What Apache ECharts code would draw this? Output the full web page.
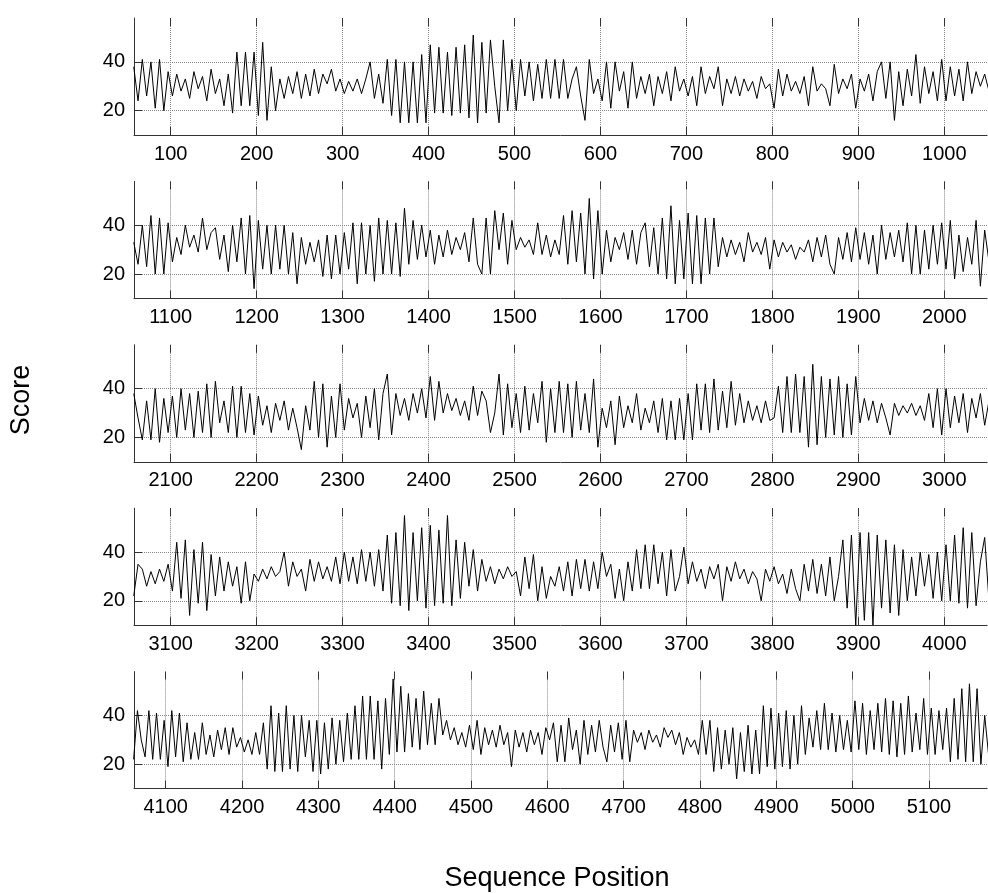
<!DOCTYPE html>
<html>
<head>
<meta charset="utf-8">
<title>Score by sequence position</title>
<script src="https://cdn.jsdelivr.net/npm/echarts@6/dist/echarts.min.js"></script>
<style>
  html, body { margin: 0; padding: 0; background: #fff; }
  #chart { width: 988px; height: 893px; }
</style>
</head>
<body>
<div id="chart"></div>
<script>
// one score every 5 positions, one array per row of the figure
var step = 5
var rowStarts = [57, 1057, 2057, 3057, 4058]

var scores1 = [38, 24, 41, 26, 40, 21, 41, 20, 36,
  26, 35, 28, 33, 25, 36, 29, 34, 24, 37, 27, 33, 22, 35,
  19, 44, 22, 44, 22, 44, 18, 48, 16, 38, 20,
  33, 25, 34, 27, 36, 25, 35, 26, 37, 27, 35, 31, 37, 28, 33, 27, 32, 28, 33, 27, 33, 40, 25, 35, 23,
  41, 18, 41, 15, 40, 15, 40, 15, 43, 15, 47, 19, 46, 19, 44, 18, 46, 19, 47, 17, 51, 15, 48, 19, 49, 30, 15, 49, 20, 41, 20, 41, 26, 40, 24, 39, 25, 41,
  25, 41, 25, 41, 25, 33, 38, 26, 16, 41, 27,
  33, 24, 40, 21, 40, 28, 36, 21, 40, 25, 34,
  27, 35, 22, 34, 27, 36, 24, 38, 28, 33, 26, 34, 22, 38, 27, 34, 29, 38, 22, 33, 27, 34, 26, 33, 28, 32, 25, 34, 29, 31,
  21, 37, 26, 35, 28, 32, 27, 34, 22, 38, 28, 31, 29, 22, 39, 27, 33, 29, 35, 21,
  33, 28, 35, 24, 36, 40, 25, 40, 16, 36, 22, 37, 26, 43, 23, 38, 27, 36, 24, 41, 24, 38, 26, 37, 24, 40, 27, 36, 30, 35, 28]

var scores2 = [33, 24, 40, 23, 44, 20, 43, 20, 41, 25,
  35, 28, 40, 31, 36, 29, 43, 30, 37, 39, 26, 36, 21, 40,
  25, 43, 20, 44, 14, 42, 22, 40, 20, 40, 22, 40, 20, 37, 16, 35, 24, 33, 25, 34, 19, 36, 18, 36, 20, 37, 22,
  41, 16, 41, 20, 40, 17, 43, 20, 42, 20, 41, 19, 47, 24, 42, 26, 40, 27,
  38, 24, 36, 27, 38, 28, 35, 30, 37, 25, 43, 24, 20, 43, 20, 46, 30, 45, 24, 42,
  30, 35, 31, 34, 28, 41, 28, 36,
  27, 34, 28, 44, 24, 46, 25, 45, 20, 51, 18, 46, 20,
  38, 25, 35, 30, 37, 26, 38, 24, 37,
  41, 23, 39, 20, 43, 18, 48, 16, 42, 18, 45, 16, 44, 16, 43, 20, 43, 23,
  35, 27, 34, 28, 33, 25, 37, 29, 33, 28, 35, 22, 34, 27, 33, 29, 32, 26, 31, 29, 34, 25, 35, 27, 36, 24, 20, 35, 26, 37, 25, 39,
  26, 37, 24, 36, 20, 40, 26, 37, 27, 38, 25, 41, 20, 40, 20, 38, 22, 40, 24, 41, 22, 42, 18, 36, 21, 35, 24, 42, 15, 38, 25]

var scores3 = [38, 28, 19, 35, 19, 40, 18, 36, 22, 37,
  20, 40, 23, 38, 20, 39, 22, 42, 20, 43, 26, 35, 22, 41, 20, 41, 22, 38, 21,
  37, 25, 33, 22, 34, 27, 35, 23, 32, 24, 15, 33, 23, 43, 20, 42, 16, 37, 20, 42,
  23, 36, 28, 34, 20, 37, 24, 40, 19, 38,
  46, 21, 38, 29, 36, 27, 38, 30, 40, 28,
  45, 27, 43, 30, 38, 31, 36, 29, 35, 27, 41, 29, 39, 35, 22, 30, 46, 21, 42, 24,
  38, 22, 41, 23, 38, 26, 43, 18,
  40, 22, 43, 22, 42, 20, 43, 23, 38, 22, 44, 16, 32,
  24, 35, 17, 37, 24, 33, 26, 38, 23, 32, 26, 35, 22, 36, 19, 35, 19, 36, 19,
  38, 19, 42, 23, 42, 22, 44, 23, 39, 24, 43, 25, 38, 26, 35, 27, 33, 26, 35, 27,
  28, 41, 22, 45, 22, 46, 22, 45, 16, 50, 17, 45, 20, 44, 21, 45, 20, 42, 21, 45, 26,
  36, 27, 35, 26, 34, 28, 21, 34, 29, 33, 30, 34, 29, 33, 27, 38, 24, 40, 21,
  40, 24, 37, 26, 38, 22, 36, 28, 38, 25, 35]

var scores4 = [22, 35, 33, 26, 32, 27, 33, 28, 35, 24,
  44, 21, 45, 14, 41, 19, 44, 16, 39, 22, 38,
  24, 36, 26, 34, 19, 36, 20, 31, 28, 33, 29, 34, 30, 32, 40, 26, 36, 30, 33, 24, 37, 28, 36, 29, 34, 28, 38, 27,
  40, 28, 38, 27, 41, 28, 40, 26, 41, 24,
  47, 19, 48, 18, 55, 16, 48, 20, 50, 17, 51, 18, 49, 19, 55, 18, 45, 21, 44, 26,
  41, 24, 37, 28, 34, 27, 33, 29, 34, 30, 32, 22, 38, 25, 39, 20, 34, 21,
  30, 26, 34, 24, 36, 22, 37, 25, 37, 24, 36, 25, 40,
  30, 35, 21, 33, 20, 36, 24, 41, 25, 43, 25, 43, 27, 40, 22, 41, 24, 30, 42,
  27, 36, 28, 33, 25, 34, 29, 35, 20, 34, 28, 36, 29, 33, 27, 32, 29, 20, 33, 28, 34, 27, 31, 23, 33, 25, 20, 35, 24, 37, 23, 35, 22, 38, 20,
  30, 45, 17, 47, 10, 48, 12, 48, 10, 47, 17, 45, 15, 43, 14, 41, 20,
  38, 22, 40, 26, 39, 21, 40, 20,
  43, 20, 47, 19, 50, 17, 48, 18, 36, 46, 20]

var scores5 = [22, 42, 30, 23, 42, 22, 41, 22, 38, 19,
  42, 23, 41, 21, 37, 22, 33, 22, 37, 24, 32, 23, 34, 26, 35, 24, 35, 27, 31,
  25, 30, 24, 33, 24, 37,
  18, 44, 17, 41, 17, 44, 18, 40, 17, 40, 23, 38, 17, 38, 16, 37, 18, 39, 20, 38, 21, 41, 22, 44, 22, 48, 22, 48, 22, 46, 18, 47, 24,
  55, 25, 52, 25, 49, 27, 47, 26, 50, 28, 45, 28, 47, 32,
  38, 30, 35, 28, 33, 27, 36, 26, 38, 24, 35, 28, 34, 27, 36, 28, 33, 19, 34, 27, 33, 25, 34, 28, 33, 24, 35,
  30, 37, 21, 36, 21, 39, 26, 34, 20, 38, 24, 36, 25, 38, 27, 21, 36, 25, 37, 22, 38, 21, 34, 29, 33, 26, 34, 29, 32, 27,
  35, 31, 34, 28, 33, 24, 31, 27, 30, 24,
  38, 24, 38, 17, 35, 18, 34, 20, 35, 14, 33, 17, 36, 16, 34, 16,
  44, 19, 43, 18, 41, 19, 42, 18, 40, 20, 44, 24, 39, 27, 42, 26, 45, 26, 41, 25, 40, 26, 38, 25,
  46, 26, 45, 24, 42, 26, 45, 25, 47, 24, 46, 23, 45, 24, 48, 25, 41, 26, 47, 24,
  43, 24, 42, 26, 43, 21, 47, 22, 51, 21, 53, 21, 51, 20, 40, 24]

var xTicks1 = [100, 200, 300, 400, 500, 600, 700, 800, 900, 1000]
var xTicks2 = [1100, 1200, 1300, 1400, 1500, 1600, 1700, 1800, 1900, 2000]
var xTicks3 = [2100, 2200, 2300, 2400, 2500, 2600, 2700, 2800, 2900, 3000]
var xTicks4 = [3100, 3200, 3300, 3400, 3500, 3600, 3700, 3800, 3900, 4000]
var xTicks5 = [4100, 4200, 4300, 4400, 4500, 4600, 4700, 4800, 4900, 5000, 5100]
var yTicks = [20, 40]

// visible x range of each row
var xMins = [57.3, 1057.3, 2057.3, 3057.3, 4058.5]
var xMaxs = [1049.7, 2049.7, 3049.7, 4049.7, 5176]
var yMin = 10
var yMax = 58

var rows = [scores1, scores2, scores3, scores4, scores5]
var rowTicks = [xTicks1, xTicks2, xTicks3, xTicks4, xTicks5]
var font = '"Liberation Sans", Arial, Helvetica, sans-serif'

function plain (v) {
  return String(v)
}

var grids = []
var xAxes = []
var yAxes = []
var series = []

rows.forEach(function (vals, k) {
  grids.push({ left: 134, right: 1, top: 18 + k * 163.4, height: 117 })
  // bottom axis with labels and grid lines
  xAxes.push({
    type: 'value',
    gridIndex: k,
    position: 'bottom',
    min: xMins[k],
    max: xMaxs[k],
    axisLine: { show: true, onZero: false, lineStyle: { color: '#333', width: 1 } },
    axisTick: { show: true, inside: true, length: 8, customValues: rowTicks[k], lineStyle: { color: '#333' } },
    axisLabel: { customValues: rowTicks[k], formatter: plain, fontSize: 20, color: '#000', fontFamily: font, margin: 9 },
    splitLine: { show: true, lineStyle: { type: 'dotted', color: '#888', width: 1 } }
  })
  // top axis, ticks only
  xAxes.push({
    type: 'value',
    gridIndex: k,
    position: 'top',
    min: xMins[k],
    max: xMaxs[k],
    axisLine: { show: false },
    axisTick: { show: true, inside: true, length: 8, customValues: rowTicks[k], lineStyle: { color: '#333' } },
    axisLabel: { show: false },
    splitLine: { show: false }
  })
  yAxes.push({
    type: 'value',
    gridIndex: k,
    min: yMin,
    max: yMax,
    axisLine: { show: true, lineStyle: { color: '#333', width: 1 } },
    axisTick: { show: true, inside: true, length: 8, customValues: yTicks, lineStyle: { color: '#333' } },
    axisLabel: { customValues: yTicks, formatter: plain, fontSize: 20, color: '#000', fontFamily: font, margin: 9 },
    splitLine: { show: true, lineStyle: { type: 'dotted', color: '#888', width: 1 } }
  })
  series.push({
    type: 'line',
    xAxisIndex: 2 * k,
    yAxisIndex: k,
    data: vals.map(function (v, i) { return [rowStarts[k] + step * i, v] }),
    showSymbol: false,
    clip: true,
    lineStyle: { color: '#000', width: 1 }
  })
})

var myChart = echarts.init(document.getElementById('chart'))
var option = {
  animation: false,
  backgroundColor: '#fff',
  grid: grids,
  xAxis: xAxes,
  yAxis: yAxes,
  series: series,
  graphic: [
    {
      type: 'text',
      x: 22,
      y: 400,
      rotation: Math.PI / 2,
      style: { text: 'Score', font: '27px ' + font, fill: '#000', align: 'center', verticalAlign: 'middle' }
    },
    {
      type: 'text',
      x: 557,
      y: 879,
      style: { text: 'Sequence Position', font: '27px ' + font, fill: '#000', align: 'center', verticalAlign: 'middle' }
    }
  ]
}
myChart.setOption(option)
</script>
</body>
</html>
